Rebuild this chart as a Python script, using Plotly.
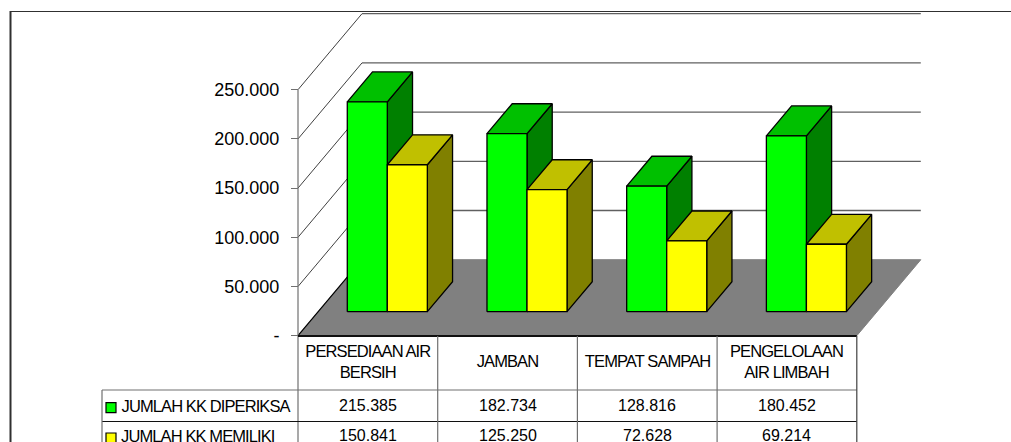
import plotly.graph_objects as go

# --- data -------------------------------------------------------------
categories = ["PERSEDIAAN AIR<br>BERSIH", "JAMBAN", "TEMPAT SAMPAH", "PENGELOLAAN<br>AIR LIMBAH"]
series_names = ["JUMLAH KK DIPERIKSA", "JUMLAH KK MEMILIKI"]
diperiksa = [215385, 182734, 128816, 180452]
memiliki = [150841, 125250, 72628, 69214]
tick_values = [0, 50000, 100000, 150000, 200000, 250000]
tick_labels = ["-", "50.000", "100.000", "150.000", "200.000", "250.000"]

# --- geometry of the oblique projection --------------------------------
W, H = 1011, 442
X0, CAT_PX = 298.0, 139.7          # pixel of category 0, pixels per category
Y0, PX_PER_UNIT = 335.7, 0.000984  # pixel of value 0, pixels per unit
DEPTH_X = 64 / CAT_PX              # full depth in category units
DEPTH_Y = 76 / PX_PER_UNIT         # full depth in value units
BAR_D0, BAR_D1 = 0.316, 0.71       # depth span of bars
BAR_W = 0.2865                     # bar width in category units
GROUP_OFF = 0.208                  # offset of first bar in each category
HEIGHT_K = 0.99


def pt(x, v, d=0.0):
    return x + d * DEPTH_X, v + d * DEPTH_Y


def poly(points, fill, line="black", width=1.3):
    xs, ys = zip(*(points + points[:1]))
    return go.Scatter(x=xs, y=ys, mode="lines", fill="toself", fillcolor=fill,
                      line=dict(color=line, width=width), hoverinfo="skip", showlegend=False)


def seg(a, b, color, width=1.0):
    return go.Scatter(x=[a[0], b[0]], y=[a[1], b[1]], mode="lines",
                      line=dict(color=color, width=width), hoverinfo="skip", showlegend=False)


fig = go.Figure()
n = len(categories)

# gridlines on back wall, side wall diagonals
for v in tick_values[1:]:
    fig.add_trace(seg(pt(0, v), pt(0, v, 1), "#404040"))
    fig.add_trace(seg(pt(0, v, 1), pt(n, v, 1), "#606060", 1.3))

# floor
fig.add_trace(poly([pt(0, 0), pt(n, 0), pt(n, 0, 1), pt(0, 0, 1)], "#808080", "#808080", 1))
fig.add_trace(seg(pt(0, 0), pt(0, 0, 1), "black", 1.2))

# bars
palette = [("#00FF00", "#00C000", "#008000"), ("#FFFF00", "#C0C000", "#808000")]
for c in range(n):
    for s, values in enumerate([diperiksa, memiliki]):
        front, top, side = palette[s]
        v = values[c] * HEIGHT_K
        xl = c + GROUP_OFF + s * BAR_W
        xr = xl + BAR_W
        fig.add_trace(poly([pt(xr, 0, BAR_D0), pt(xr, 0, BAR_D1), pt(xr, v, BAR_D1), pt(xr, v, BAR_D0)], side))
        fig.add_trace(poly([pt(xl, v, BAR_D0), pt(xr, v, BAR_D0), pt(xr, v, BAR_D1), pt(xl, v, BAR_D1)], top))
        fig.add_trace(poly([pt(xl, 0, BAR_D0), pt(xr, 0, BAR_D0), pt(xr, v, BAR_D0), pt(xl, v, BAR_D0)], front))


# --- table (shapes & text) ------------------------------------------------
def py(p):
    return 1 - p / H


def px(p):
    return p / W


GREY, DARK = "#707070", "#101010"
shapes = [
    # outer frame
    dict(type="line", xref="paper", yref="paper", x0=px(10.5), x1=px(10.5), y0=0, y1=py(11), line=dict(color="#303030", width=2)),
    dict(type="line", xref="paper", yref="paper", x0=px(10), x1=1, y0=py(11.5), y1=py(11.5), line=dict(color="#303030", width=1)),
    # front axis line
    dict(type="line", xref="x", yref="paper", x0=0, x1=0, y0=0, y1=py(89.7), line=dict(color=GREY, width=1.2)),
    # floor front edge
    dict(type="line", xref="x", yref="paper", x0=0, x1=n, y0=py(336), y1=py(336), line=dict(color=DARK, width=2)),
    # table rows
    dict(type="line", xref="paper", yref="paper", x0=px(102), x1=px(X0 + n * CAT_PX), y0=py(390), y1=py(390), line=dict(color=GREY, width=1.2)),
    dict(type="line", xref="paper", yref="paper", x0=px(102), x1=px(X0 + n * CAT_PX), y0=py(421.5), y1=py(421.5), line=dict(color=DARK, width=1)),
    dict(type="line", xref="paper", yref="paper", x0=px(102), x1=px(102), y0=0, y1=py(390), line=dict(color=GREY, width=1.2)),
]
for i in range(1, n + 1):
    shapes.append(dict(type="line", xref="x", yref="paper", x0=i, x1=i, y0=0, y1=py(336),
                       line=dict(color=GREY if i < n else "#404040", width=1.2)))
for s, (key_top, colour) in enumerate([(402.7, "#00FF00"), (433, "#FFFF00")]):
    shapes.append(dict(type="rect", xref="paper", yref="paper", x0=px(106), x1=px(116),
                       y0=py(key_top + 10), y1=py(key_top), fillcolor=colour, line=dict(color="black", width=1.2)))

FONT = "Liberation Sans"
annotations = []


def text(x, xref, y, s, anchor="center", size=16.5):
    annotations.append(dict(x=x, xref=xref, y=py(y), yref="paper", text=s, showarrow=False, xanchor=anchor,
                            yanchor="middle", align="center", font=dict(family=FONT, size=size, color="black"),
                            borderpad=0))


for c, cat in enumerate(categories):
    text(c + 0.5, "x", 361, cat)
row_y = [405.7, 435.5]
for s, (name, values) in enumerate(zip(series_names, [diperiksa, memiliki])):
    text(px(111.5), "paper", row_y[s], name, anchor="left")
    for c, v in enumerate(values):
        text(c + 0.5, "x", row_y[s], f"{v:,}".replace(",", "."), size=16)

fig.update_layout(
    width=W, height=H, margin=dict(l=0, r=0, t=0, b=0), showlegend=False,
    paper_bgcolor="white", plot_bgcolor="white", shapes=shapes, annotations=annotations,
    xaxis=dict(range=[-X0 / CAT_PX, (W - X0) / CAT_PX], visible=False, domain=[0, 1]),
    yaxis=dict(range=[(Y0 - H) / PX_PER_UNIT, Y0 / PX_PER_UNIT], domain=[0, 1], anchor="free", position=X0 / W,
               tickvals=tick_values, ticktext=tick_labels, ticks="outside", ticklen=7, tickcolor=GREY, tickwidth=1,
               ticklabelstandoff=8, showgrid=False, zeroline=False, showline=False,
               tickfont=dict(family=FONT, size=18, color="black")),
)
post = """
document.body.style.margin='0';document.body.style.overflow='hidden';
document.querySelectorAll('.annotation-text').forEach(function(t){
  if(/[A-Z]/.test(t.textContent)){t.style.letterSpacing='-0.9px';}
});
"""
fig.write_html("out.html", post_script=post, config={"displayModeBar": False})
